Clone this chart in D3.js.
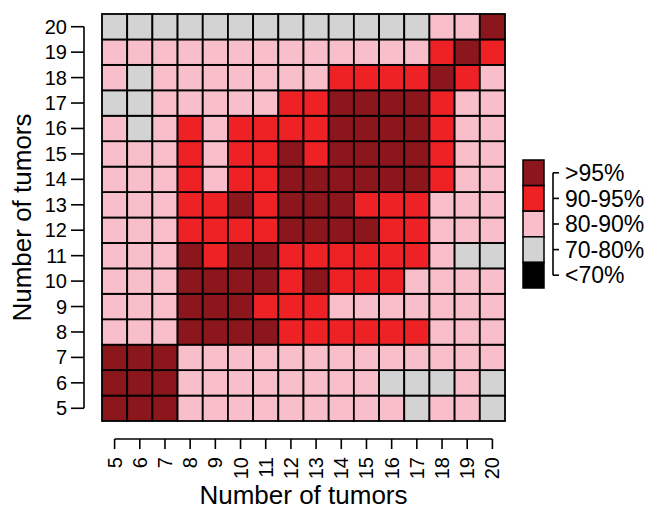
<!DOCTYPE html>
<html>
<head>
<meta charset="utf-8">
<script src="https://cdn.jsdelivr.net/npm/d3@7"></script>
<style>
  body { margin: 0; background: #fff; }
  svg { display: block; font-family: "Liberation Sans", Arial, sans-serif; }
</style>
</head>
<body>
<div id="chart"></div>
<script>
var svgWidth = 668;
var svgHeight = 510;

// tumor counts on both axes
var xCounts = [5, 6, 7, 8, 9, 10, 11, 12, 13, 14, 15, 16, 17, 18, 19, 20];
var yCounts = [5, 6, 7, 8, 9, 10, 11, 12, 13, 14, 15, 16, 17, 18, 19, 20];

// legend classes, low to high
var levelLabels = ["<70%", "70-80%", "80-90%", "90-95%", ">95%"];
var levelColors = ["#000000", "#d3d3d3", "#f8bfcb", "#ee2125", "#8b161b"];

// class index per cell, one row per y count (top row = 20), columns x = 5..20
var row20 = [1, 1, 1, 1, 1, 1, 1, 1, 1, 1, 1, 1, 1, 2, 2, 4];
var row19 = [2, 2, 2, 2, 2, 2, 2, 2, 2, 2, 2, 2, 2, 3, 4, 3];
var row18 = [2, 1, 2, 2, 2, 2, 2, 2, 2, 3, 3, 3, 3, 4, 3, 2];
var row17 = [1, 1, 2, 2, 2, 2, 2, 3, 3, 4, 4, 4, 4, 3, 2, 2];
var row16 = [2, 1, 2, 3, 2, 3, 3, 3, 3, 4, 4, 4, 4, 3, 2, 2];
var row15 = [2, 2, 2, 3, 2, 3, 3, 4, 3, 4, 4, 4, 4, 3, 2, 2];
var row14 = [2, 2, 2, 3, 2, 3, 3, 4, 4, 4, 4, 4, 4, 3, 2, 2];
var row13 = [2, 2, 2, 3, 3, 4, 3, 4, 4, 4, 3, 3, 3, 2, 2, 2];
var row12 = [2, 2, 2, 3, 3, 3, 3, 4, 4, 4, 4, 3, 3, 2, 2, 2];
var row11 = [2, 2, 2, 4, 3, 4, 4, 3, 3, 3, 3, 3, 3, 2, 1, 1];
var row10 = [2, 2, 2, 4, 4, 4, 4, 3, 4, 3, 3, 3, 2, 2, 2, 2];
var row9  = [2, 2, 2, 4, 4, 4, 3, 3, 3, 2, 2, 2, 2, 2, 2, 2];
var row8  = [2, 2, 2, 4, 4, 4, 4, 3, 3, 3, 3, 3, 3, 2, 2, 2];
var row7  = [4, 4, 4, 2, 2, 2, 2, 2, 2, 2, 2, 2, 2, 2, 2, 2];
var row6  = [4, 4, 4, 2, 2, 2, 2, 2, 2, 2, 2, 1, 1, 1, 2, 1];
var row5  = [4, 4, 4, 2, 2, 2, 2, 2, 2, 2, 2, 2, 1, 2, 2, 1];

var rows = [row5, row6, row7, row8, row9, row10, row11, row12,
            row13, row14, row15, row16, row17, row18, row19, row20];

var plot = { left: 102, right: 505, top: 14, bottom: 421 };

var svg = d3.select("#chart")
  .append("svg")
  .attr("width", svgWidth)
  .attr("height", svgHeight);

var xScale = d3.scaleBand()
  .domain(xCounts)
  .range([plot.left, plot.right]);

var yScale = d3.scaleBand()
  .domain(yCounts)
  .range([plot.bottom, plot.top]);

var colorScale = d3.scaleOrdinal()
  .domain(d3.range(levelLabels.length))
  .range(levelColors);

// flatten the rows into cells
var cells = [];
rows.forEach(function(r, i) {
  r.forEach(function(v, j) {
    cells.push({ x: xCounts[j], y: yCounts[i], level: v });
  });
});

svg.append("g")
  .selectAll("rect")
  .data(cells)
  .enter()
  .append("rect")
  .attr("x", d => xScale(d.x))
  .attr("y", d => yScale(d.y))
  .attr("width", xScale.bandwidth())
  .attr("height", yScale.bandwidth())
  .attr("fill", d => colorScale(d.level))
  .attr("stroke", "#000")
  .attr("stroke-width", 1.8);

// R-style axes: line spans first to last tick, detached from the plot
var xAxisY = 439;
var first = xScale(xCounts[0]) + xScale.bandwidth() / 2;
var last = xScale(xCounts[xCounts.length - 1]) + xScale.bandwidth() / 2;

var xAxis = svg.append("g");
xAxis.append("line")
  .attr("x1", first).attr("x2", last)
  .attr("y1", xAxisY).attr("y2", xAxisY)
  .attr("stroke", "#000").attr("stroke-width", 1.6);
xAxis.selectAll("line.tick")
  .data(xCounts)
  .enter().append("line")
  .attr("class", "tick")
  .attr("x1", d => xScale(d) + xScale.bandwidth() / 2)
  .attr("x2", d => xScale(d) + xScale.bandwidth() / 2)
  .attr("y1", xAxisY).attr("y2", xAxisY + 10)
  .attr("stroke", "#000").attr("stroke-width", 1.6);
xAxis.selectAll("text")
  .data(xCounts)
  .enter().append("text")
  .attr("transform", d => `translate(${xScale(d) + xScale.bandwidth() / 2}, ${xAxisY + 18}) rotate(-90)`)
  .attr("text-anchor", "end")
  .attr("dy", "0.35em")
  .style("font-size", "20px")
  .text(d => d);

var yAxisX = 84;
var yFirst = yScale(yCounts[0]) + yScale.bandwidth() / 2;
var yLast = yScale(yCounts[yCounts.length - 1]) + yScale.bandwidth() / 2;

var yAxis = svg.append("g");
yAxis.append("line")
  .attr("x1", yAxisX).attr("x2", yAxisX)
  .attr("y1", yFirst).attr("y2", yLast)
  .attr("stroke", "#000").attr("stroke-width", 1.6);
yAxis.selectAll("line.tick")
  .data(yCounts)
  .enter().append("line")
  .attr("class", "tick")
  .attr("x1", yAxisX - 13).attr("x2", yAxisX)
  .attr("y1", d => yScale(d) + yScale.bandwidth() / 2)
  .attr("y2", d => yScale(d) + yScale.bandwidth() / 2)
  .attr("stroke", "#000").attr("stroke-width", 1.6);
yAxis.selectAll("text")
  .data(yCounts)
  .enter().append("text")
  .attr("x", yAxisX - 17)
  .attr("y", d => yScale(d) + yScale.bandwidth() / 2)
  .attr("text-anchor", "end")
  .attr("dy", "0.35em")
  .style("font-size", "20px")
  .text(d => d);

// axis titles
svg.append("text")
  .attr("x", (plot.left + plot.right) / 2)
  .attr("y", 504)
  .attr("text-anchor", "middle")
  .style("font-size", "26px")
  .text("Number of tumors");

svg.append("text")
  .attr("transform", `translate(31, ${(plot.top + plot.bottom) / 2}) rotate(-90)`)
  .attr("text-anchor", "middle")
  .style("font-size", "26px")
  .text("Number of tumors");

// legend (colour key, highest class on top)
var levels = d3.range(levelLabels.length).reverse();
var legendScale = d3.scaleBand()
  .domain(levels)
  .range([160, 288]);

var legend = svg.append("g");
legend.selectAll("rect")
  .data(levels)
  .enter().append("rect")
  .attr("x", 523)
  .attr("y", d => legendScale(d))
  .attr("width", 21)
  .attr("height", legendScale.bandwidth())
  .attr("fill", d => colorScale(d))
  .attr("stroke", "#000")
  .attr("stroke-width", 1.5);

var lx = 553;
var lFirst = legendScale(levels[0]) + legendScale.bandwidth() / 2;
var lLast = legendScale(levels[levels.length - 1]) + legendScale.bandwidth() / 2;
legend.append("line")
  .attr("x1", lx).attr("x2", lx)
  .attr("y1", lFirst).attr("y2", lLast)
  .attr("stroke", "#000").attr("stroke-width", 1.6);
legend.selectAll("line.tick")
  .data(levels)
  .enter().append("line")
  .attr("class", "tick")
  .attr("x1", lx).attr("x2", lx + 6)
  .attr("y1", d => legendScale(d) + legendScale.bandwidth() / 2)
  .attr("y2", d => legendScale(d) + legendScale.bandwidth() / 2)
  .attr("stroke", "#000").attr("stroke-width", 1.6);
legend.selectAll("text")
  .data(levels)
  .enter().append("text")
  .attr("x", lx + 12)
  .attr("y", d => legendScale(d) + legendScale.bandwidth() / 2)
  .attr("dy", "0.36em")
  .style("font-size", "23px")
  .text(d => levelLabels[d]);
</script>
</body>
</html>
